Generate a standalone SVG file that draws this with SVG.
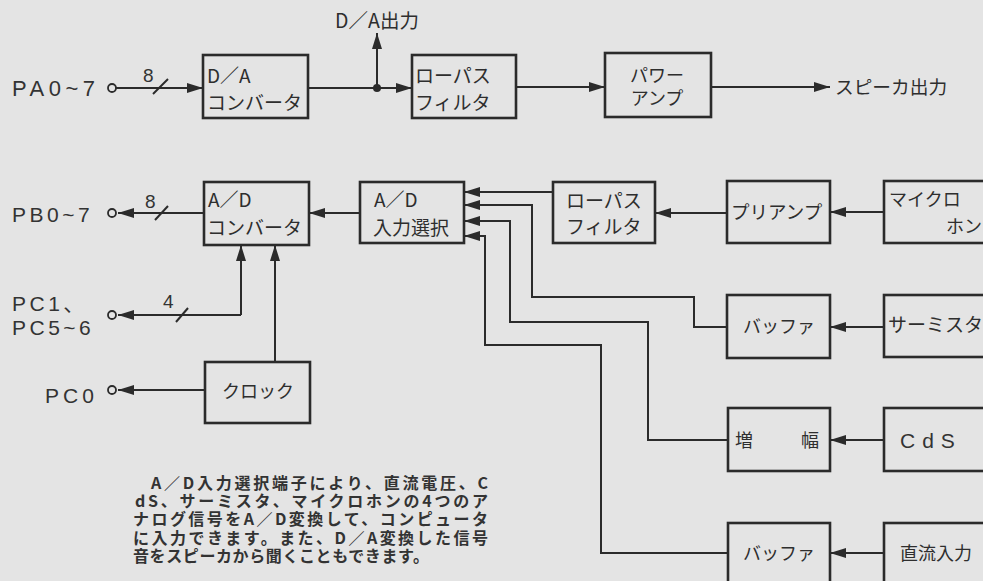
<svg xmlns="http://www.w3.org/2000/svg" width="983" height="581" viewBox="0 0 983 581">
<defs>
<marker id="ah" markerUnits="userSpaceOnUse" markerWidth="16" markerHeight="10" refX="16" refY="5" orient="auto">
<path d="M0,0 L16,5 L0,10 z" fill="#2b2b2b"/>
</marker>
<style>
.box{fill:none;stroke:#2b2b2b;stroke-width:2.6}
.ln{fill:none;stroke:#2b2b2b;stroke-width:2}
.ar{fill:none;stroke:#2b2b2b;stroke-width:2;marker-end:url(#ah)}
.jp{font-family:"Noto Sans CJK JP",sans-serif;font-size:19px;fill:#2e2e2e}
.lat{font-family:"Liberation Sans","Noto Sans CJK JP",sans-serif;font-size:21px;fill:#333}
.num{font-family:"Liberation Sans",sans-serif;font-size:19px;fill:#333}
.cap{font-family:"Noto Sans CJK JP",sans-serif;font-size:16px;font-weight:bold;fill:#333}
.term{fill:none;stroke:#2b2b2b;stroke-width:1.8}
</style>
</defs>
<rect width="983" height="581" fill="#e4e4e4"/>

<g id="connectors">
<path class="ar" d="M116,88 L203,88"/>
<path class="ln" d="M153,94 L168,79"/>
<path class="ln" d="M308,88 L377,88"/>
<path class="ar" d="M377,88 L412,88"/>
<path class="ar" d="M377,88 L377,33"/>
<circle cx="377" cy="88" r="4" fill="#2b2b2b"/>
<path class="ar" d="M516,87 L605,87"/>
<path class="ar" d="M711,87 L830,87"/>

<path class="ar" d="M204,213 L118,213"/>
<path class="ln" d="M155,220 L168,206"/>
<path class="ar" d="M360,213 L309,213"/>
<path class="ar" d="M241,315 L241,245"/>
<path class="ar" d="M241,315 L118,315"/>
<path class="ln" d="M176,322 L188,308"/>
<path class="ar" d="M275,362 L275,245"/>
<path class="ar" d="M205,390 L118,390"/>

<path class="ar" d="M553,192 L464,192"/>
<path class="ar" d="M727,213 L655,213"/>
<path class="ar" d="M884,212 L830,212"/>
<path class="ar" d="M727,327 L694,327 L694,297 L532,297 L532,205 L464,205"/>
<path class="ar" d="M884,327 L830,327"/>
<path class="ar" d="M728,440 L648,440 L648,322 L510,322 L510,221 L464,221"/>
<path class="ar" d="M884,440 L830,440"/>
<path class="ar" d="M728,553 L601,553 L601,345 L485,345 L485,236 L464,236"/>
<path class="ar" d="M884,553 L830,553"/>
</g>

<g id="terminals">
<circle class="term" cx="112" cy="88" r="4"/>
<circle class="term" cx="112" cy="213" r="4"/>
<circle class="term" cx="112" cy="315" r="4"/>
<circle class="term" cx="112" cy="390" r="4"/>
</g>

<g id="labels">
<text class="lat" x="12" y="96" style="font-size:22px;letter-spacing:4.5px">PA0~7</text>
<text class="num" x="143" y="82">8</text>
<text class="jp" x="377" y="28" text-anchor="middle" style="font-size:19.5px">D／A出力</text>
<text class="jp" x="835" y="94" style="font-size:18.7px">スピーカ出力</text>
<text class="lat" x="12" y="222" style="letter-spacing:3.5px">PB0~7</text>
<text class="num" x="145" y="208">8</text>
<text class="lat" x="12" y="311" style="letter-spacing:3.5px">PC1、</text>
<text class="lat" x="12" y="335" style="letter-spacing:3.5px">PC5~6</text>
<text class="num" x="163" y="308">4</text>
<text class="lat" x="45" y="403" style="letter-spacing:4px">PC0</text>
</g>

<g id="da-converter">
<rect class="box" x="203" y="55" width="105" height="63"/>
<text class="jp" x="207" y="83">D／A</text>
<text class="jp" x="207" y="110">コンバータ</text>
</g>
<g id="lowpass1">
<rect class="box" x="412" y="55" width="104" height="63"/>
<text class="jp" x="415" y="83">ローパス</text>
<text class="jp" x="415" y="110">フィルタ</text>
</g>
<g id="power-amp">
<rect class="box" x="605" y="53" width="106" height="64"/>
<text class="jp" x="657" y="82" text-anchor="middle" style="font-size:18px">パワー</text>
<text class="jp" x="657" y="105" text-anchor="middle" style="font-size:18px">アンプ</text>
</g>

<g id="ad-converter">
<rect class="box" x="204" y="182" width="105" height="63"/>
<text class="jp" x="208" y="207">A／D</text>
<text class="jp" x="207" y="235">コンバータ</text>
</g>
<g id="ad-select">
<rect class="box" x="360" y="182" width="104" height="61"/>
<text class="jp" x="374" y="207">A／D</text>
<text class="jp" x="373" y="235">入力選択</text>
</g>
<g id="clock">
<rect class="box" x="205" y="362" width="105" height="61"/>
<text class="jp" x="258" y="398" text-anchor="middle" style="font-size:18px">クロック</text>
</g>

<g id="lowpass2">
<rect class="box" x="553" y="182" width="102" height="61"/>
<text class="jp" x="566" y="208">ローパス</text>
<text class="jp" x="566" y="234">フィルタ</text>
</g>
<g id="preamp">
<rect class="box" x="727" y="181" width="103" height="62"/>
<text class="jp" x="731" y="219" style="font-size:18.5px">プリアンプ</text>
</g>
<g id="microphone">
<rect class="box" x="884" y="181" width="120" height="62"/>
<text class="jp" x="889" y="206" style="font-size:18px">マイクロ</text>
<text class="jp" x="946" y="233" style="font-size:18px">ホン</text>
</g>

<g id="buffer1">
<rect class="box" x="727" y="295" width="103" height="63"/>
<text class="jp" x="779" y="333" text-anchor="middle" style="font-size:18px">バッファ</text>
</g>
<g id="thermistor">
<rect class="box" x="884" y="295" width="120" height="62"/>
<text class="jp" x="888" y="332">サーミスタ</text>
</g>

<g id="amplifier">
<rect class="box" x="728" y="408" width="102" height="63"/>
<text class="jp" x="735" y="447" style="font-size:18px">増</text>
<text class="jp" x="801" y="447" style="font-size:18px">幅</text>
</g>
<g id="cds">
<rect class="box" x="884" y="408" width="120" height="63"/>
<text class="lat" x="900" y="448" style="font-size:21px;letter-spacing:7px">CdS</text>
</g>

<g id="buffer2">
<rect class="box" x="728" y="523" width="102" height="80"/>
<text class="jp" x="779" y="560" text-anchor="middle" style="font-size:18px">バッファ</text>
</g>
<g id="dc-input">
<rect class="box" x="884" y="523" width="120" height="80"/>
<text class="jp" x="900" y="560" style="font-size:18px">直流入力</text>
</g>

<g id="caption">
<text class="cap"><tspan x="151" y="489" textLength="337" lengthAdjust="spacing">A／D入力選択端子により、直流電圧、C</tspan><tspan x="135" y="507" textLength="353" lengthAdjust="spacing">dS、サーミスタ、マイクロホンの4つのア</tspan><tspan x="133" y="525" textLength="355" lengthAdjust="spacing">ナログ信号をA／D変換して、コンピュータ</tspan><tspan x="133" y="544" textLength="355" lengthAdjust="spacing">に入力できます。また、D／A変換した信号</tspan><tspan x="133" y="562" textLength="296" lengthAdjust="spacing">音をスピーカから聞くこともできます。</tspan></text>
</g>
</svg>
